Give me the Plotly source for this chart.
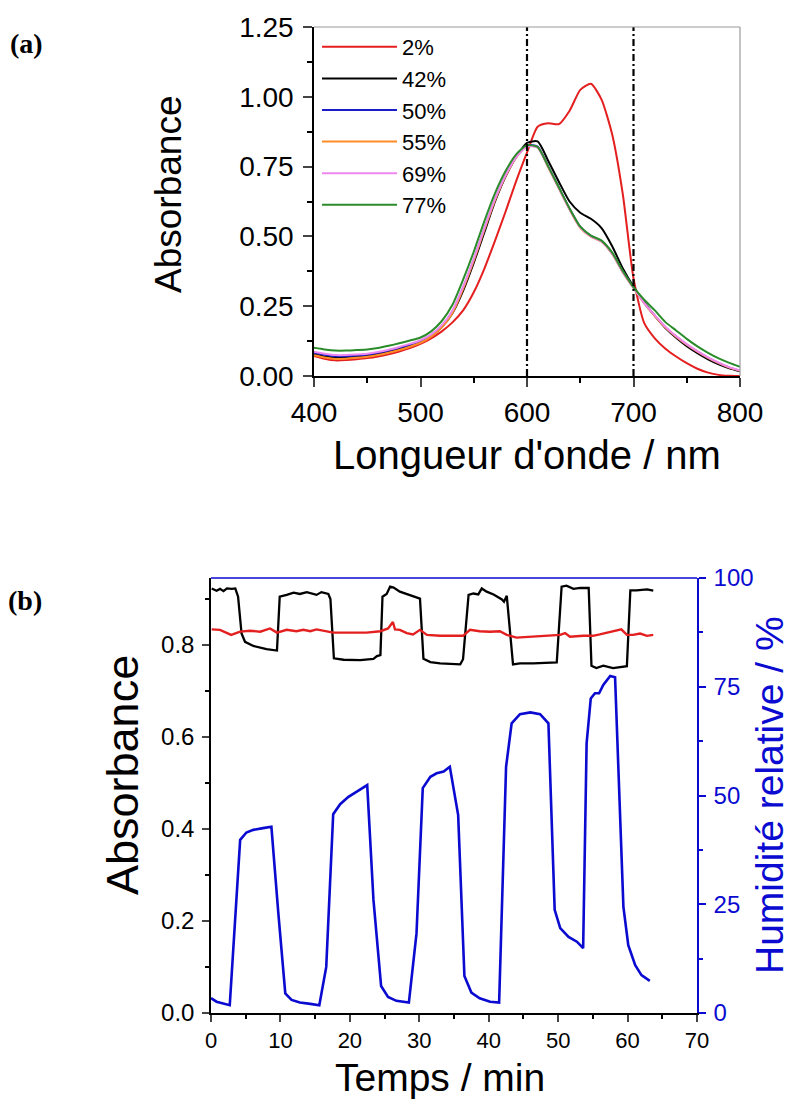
import plotly.graph_objects as go

W, H = 796, 1104

# ---------------- (a) spectra ----------------
wavelength = list(range(400, 801, 10))
series_labels = ["2%", "42%", "50%", "55%", "69%", "77%"]
series_colors = ["#e41f1f", "#000000", "#1c1cc8", "#ff8c28", "#ee88ee", "#2a8c2a"]

abs_2 = [0.072, 0.062, 0.056, 0.057, 0.060, 0.064, 0.070, 0.078, 0.088, 0.100,
         0.115, 0.135, 0.160, 0.192, 0.235, 0.300, 0.385, 0.485, 0.590, 0.700,
         0.800, 0.893, 0.905, 0.902, 0.950, 1.025, 1.047, 0.990, 0.865, 0.650,
         0.350, 0.190, 0.135, 0.098, 0.070, 0.046, 0.026, 0.012, 0.004, 0.001, 0.000]
abs_42 = [0.078, 0.070, 0.066, 0.066, 0.069, 0.073, 0.079, 0.086, 0.096, 0.107,
          0.122, 0.143, 0.175, 0.225, 0.305, 0.405, 0.515, 0.625, 0.715, 0.785,
          0.835, 0.840, 0.770, 0.695, 0.625, 0.585, 0.563, 0.530, 0.465, 0.385,
          0.320, 0.265, 0.215, 0.172, 0.137, 0.107, 0.082, 0.060, 0.042, 0.028, 0.017]
abs_50 = [0.083, 0.076, 0.071, 0.071, 0.073, 0.077, 0.083, 0.091, 0.101, 0.112,
          0.125, 0.146, 0.179, 0.231, 0.316, 0.416, 0.527, 0.633, 0.719, 0.786,
          0.826, 0.822, 0.750, 0.674, 0.599, 0.534, 0.502, 0.483, 0.439, 0.373,
          0.317, 0.262, 0.216, 0.174, 0.141, 0.112, 0.087, 0.065, 0.046, 0.030, 0.019]
abs_55 = [0.074, 0.066, 0.061, 0.062, 0.065, 0.069, 0.075, 0.083, 0.093, 0.105,
          0.119, 0.141, 0.174, 0.226, 0.312, 0.413, 0.524, 0.630, 0.717, 0.784,
          0.823, 0.819, 0.747, 0.671, 0.596, 0.531, 0.499, 0.481, 0.437, 0.371,
          0.315, 0.261, 0.215, 0.174, 0.141, 0.112, 0.087, 0.065, 0.046, 0.030, 0.019]
abs_69 = [0.087, 0.080, 0.075, 0.075, 0.077, 0.080, 0.086, 0.094, 0.104, 0.115,
          0.128, 0.149, 0.182, 0.235, 0.320, 0.420, 0.530, 0.635, 0.720, 0.785,
          0.822, 0.818, 0.748, 0.672, 0.597, 0.532, 0.500, 0.482, 0.438, 0.372,
          0.316, 0.262, 0.217, 0.176, 0.143, 0.114, 0.089, 0.067, 0.048, 0.032, 0.020]
abs_77 = [0.101, 0.095, 0.091, 0.091, 0.093, 0.095, 0.100, 0.108, 0.117, 0.127,
          0.138, 0.160, 0.197, 0.255, 0.345, 0.445, 0.555, 0.655, 0.735, 0.795,
          0.827, 0.820, 0.750, 0.675, 0.600, 0.535, 0.503, 0.485, 0.442, 0.376,
          0.318, 0.273, 0.235, 0.193, 0.163, 0.133, 0.106, 0.083, 0.063, 0.047, 0.033]
spectra = [abs_2, abs_42, abs_50, abs_55, abs_69, abs_77]

ref_wavelengths = [600, 700]
a_xticks = [400, 500, 600, 700, 800]
a_yticks = [0.0, 0.25, 0.5, 0.75, 1.0, 1.25]
a_ylabels = ["0.00", "0.25", "0.50", "0.75", "1.00", "1.25"]

# ---------------- (b) kinetics ----------------
t_black = [0.1, 0.8, 1.3, 1.8, 2.3, 3.0, 3.5, 3.9, 4.4, 4.9, 6.1, 8.0, 9.5,
           9.9, 10.9, 11.9, 12.8, 13.8, 15.2, 15.9, 16.9, 17.2,
           17.7, 19.1, 21.5, 23.4, 23.9, 24.4,
           24.7, 25.3, 25.8, 26.3, 27.2, 28.7, 30.1,
           30.6, 31.6, 33.0, 35.9, 36.3,
           37.1, 37.8, 38.5, 39.0, 39.7, 40.7, 41.9, 42.2, 42.6,
           43.5, 44.5, 46.4, 48.3, 49.8,
           50.5, 51.2, 52.2, 53.2, 54.4,
           54.8, 55.5, 56.5, 57.9, 59.9,
           60.4, 61.3, 62.8, 63.7]
abs_black = [0.923, 0.918, 0.922, 0.917, 0.923, 0.922, 0.923, 0.905, 0.825, 0.807, 0.798, 0.791, 0.788,
             0.905, 0.909, 0.914, 0.911, 0.915, 0.909, 0.915, 0.911, 0.900,
             0.771, 0.768, 0.767, 0.770, 0.776, 0.778,
             0.905, 0.911, 0.927, 0.925, 0.916, 0.909, 0.901,
             0.770, 0.763, 0.760, 0.758, 0.769,
             0.909, 0.912, 0.910, 0.923, 0.916, 0.910, 0.899, 0.894, 0.907,
             0.758, 0.760, 0.760, 0.761, 0.762,
             0.927, 0.929, 0.922, 0.924, 0.924,
             0.755, 0.750, 0.755, 0.750, 0.754,
             0.919, 0.919, 0.921, 0.918]

t_red = [0.1, 1.3, 2.9, 4.2, 5.6, 7.1, 8.5, 9.5, 10.9, 12.3,
         13.3, 14.3, 15.2, 16.7, 17.6, 20.0, 22.4, 24.4, 25.5, 26.2,
         26.5, 27.2, 28.2, 29.1, 30.1, 31.1, 33.0, 36.3, 37.3, 38.7,
         40.2, 41.6, 42.6, 44.0, 46.4, 48.8, 50.3, 51.0, 51.7, 53.6,
         55.0, 56.0, 57.9, 59.1, 59.9, 60.8, 61.8, 62.8, 63.7]
abs_red = [0.834, 0.833, 0.822, 0.829, 0.831, 0.829, 0.836, 0.827, 0.833, 0.830,
           0.833, 0.830, 0.834, 0.829, 0.827, 0.827, 0.827, 0.830, 0.836, 0.850,
           0.834, 0.833, 0.826, 0.823, 0.833, 0.822, 0.820, 0.820, 0.833, 0.830,
           0.829, 0.830, 0.822, 0.816, 0.818, 0.820, 0.822, 0.826, 0.818, 0.820,
           0.820, 0.823, 0.829, 0.834, 0.822, 0.822, 0.825, 0.820, 0.822]

t_rh = [0, 0.8, 2.7, 4.2, 5.1, 6.1, 7.5, 8.7, 9.7, 10.7,
        11.6, 12.8, 14.3, 15.6, 16.6, 17.6, 18.6, 19.8, 21.0, 22.5,
        23.4, 24.5, 25.5, 26.7, 28.5, 29.6, 30.5, 31.6, 32.5, 33.5,
        34.4, 35.6, 36.5, 37.5, 38.7, 40.2, 41.5, 42.5, 43.3, 44.5,
        46.0, 47.4, 48.6, 49.5, 50.3, 51.5, 52.7, 53.6, 54.1, 54.7,
        55.3, 55.9, 56.5, 57.5, 58.2, 59.4, 60.1, 61.1, 62.0, 63.2]
rh = [3.4, 2.6, 1.8, 39.8, 41.5, 42.1, 42.5, 42.8, 22.9, 4.5,
      3.0, 2.4, 2.1, 1.8, 10.6, 45.7, 48.0, 49.7, 50.9, 52.4,
      26.0, 6.2, 3.7, 2.8, 2.4, 18.3, 51.7, 54.3, 55.1, 55.5,
      56.6, 45.5, 8.5, 4.7, 3.4, 2.6, 2.4, 56.6, 66.6, 68.7,
      69.1, 68.7, 66.6, 23.7, 19.5, 17.5, 16.4, 14.9, 62.0, 72.3,
      73.5, 73.5, 75.4, 77.5, 77.2, 24.4, 15.6, 11.0, 8.7, 7.4]

b_xticks = [0, 10, 20, 30, 40, 50, 60, 70]
b_yticks = [0.0, 0.2, 0.4, 0.6, 0.8]
b_ylabels = ["0.0", "0.2", "0.4", "0.6", "0.8"]
b_rticks = [0, 25, 50, 75, 100]

BLUE = "#0a0ad0"
FONT = "Liberation Sans, Arial, sans-serif"
SERIF = "Liberation Serif, Times New Roman, serif"

# screen pixel -> paper fraction
def px(x):
    return x / W

def py(y):
    return 1 - y / H

fig = go.Figure()

for vals, lab, col in zip(spectra, series_labels, series_colors):
    fig.add_trace(go.Scatter(x=wavelength, y=vals, name=lab, mode="lines",
                             line=dict(color=col, width=2, shape="spline", smoothing=0.6),
                             xaxis="x", yaxis="y"))

fig.add_trace(go.Scatter(x=t_black, y=abs_black, mode="lines", showlegend=False,
                         line=dict(color="black", width=2.3), xaxis="x2", yaxis="y2"))
fig.add_trace(go.Scatter(x=t_red, y=abs_red, mode="lines", showlegend=False,
                         line=dict(color="#e41f1f", width=2.4), xaxis="x2", yaxis="y2"))
fig.add_trace(go.Scatter(x=t_rh, y=rh, mode="lines", showlegend=False,
                         line=dict(color=BLUE, width=2.6), xaxis="x2", yaxis="y3"))

for wl in ref_wavelengths:
    fig.add_shape(type="line", xref="x", yref="y domain", x0=wl, x1=wl, y0=0, y1=1,
                  line=dict(color="black", width=2.2, dash="7px,3px,2px,3px"), layer="above")

fig.add_shape(type="line", xref="x domain", yref="y domain", x0=0, x1=1, y0=1, y1=1,
              line=dict(color="#999999", width=1.2))
fig.add_shape(type="line", xref="x domain", yref="y domain", x0=1, x1=1, y0=0, y1=1,
              line=dict(color="#999999", width=1.2))
fig.add_shape(type="line", xref="x2 domain", yref="y2 domain", x0=0, x1=1, y0=1, y1=1,
              line=dict(color=BLUE, width=1.5))

tick_font_a = dict(family=FONT, size=28, color="black")
common = dict(showgrid=False, zeroline=False, automargin=False, showline=True, linewidth=1.5)
fig.update_layout(
    width=W, height=H, autosize=False,
    margin=dict(l=0, r=0, t=0, b=0, pad=0, autoexpand=False),
    paper_bgcolor="white", plot_bgcolor="white",
    font=dict(family=FONT, color="black"),
    showlegend=True,
    legend=dict(x=px(317), y=py(26), xanchor="left", yanchor="top",
                bgcolor="rgba(0,0,0,0)", font=dict(family=FONT, size=22, color="black"),
                itemwidth=75, tracegroupgap=0),
    xaxis=dict(domain=[px(314), px(740)], anchor="y", range=[400, 800],
               tickvals=a_xticks, ticks="outside", ticklen=9, tickwidth=1.5, linecolor="black",
               tickfont=tick_font_a, ticklabelstandoff=2,
               minor=dict(dtick=50, ticks="outside", ticklen=5, tickwidth=1.5, tickcolor="black"),
               **common),
    yaxis=dict(domain=[py(376), py(27)], anchor="x", range=[0, 1.25],
               tickvals=a_yticks, ticktext=a_ylabels, ticks="outside", ticklen=9, tickwidth=1.5,
               linecolor="black", tickfont=tick_font_a, ticklabelstandoff=4,
               minor=dict(dtick=0.125, ticks="outside", ticklen=5, tickwidth=1.5, tickcolor="black"),
               **common),
    xaxis2=dict(domain=[px(211), px(697)], anchor="y2", range=[0, 70],
                tickvals=b_xticks, ticks="outside", ticklen=7, tickwidth=1.5, linecolor="black",
                tickfont=dict(family=FONT, size=22, color="black"), ticklabelstandoff=0,
                minor=dict(dtick=5, ticks="outside", ticklen=4, tickwidth=1.5, tickcolor="black"),
                **common),
    yaxis2=dict(domain=[py(1013), py(578)], anchor="x2", range=[0, 0.9457],
                tickvals=b_yticks, ticktext=b_ylabels, ticks="outside", ticklen=7, tickwidth=1.5,
                linecolor="black", tickfont=dict(family=FONT, size=24, color="black"),
                ticklabelstandoff=3,
                minor=dict(dtick=0.1, ticks="outside", ticklen=4, tickwidth=1.5, tickcolor="black"),
                **common),
    yaxis3=dict(overlaying="y2", side="right", anchor="x2", range=[0, 100],
                tickvals=b_rticks, ticks="outside", ticklen=7, tickwidth=1.5, tickcolor=BLUE,
                linecolor=BLUE, tickfont=dict(family=FONT, size=24, color=BLUE), ticklabelstandoff=3,
                minor=dict(dtick=12.5, ticks="outside", ticklen=4, tickwidth=1.5, tickcolor=BLUE),
                **common),
)

def ann(text, x, y, size, color="black", angle=0, family=FONT):
    fig.add_annotation(text=text, x=px(x), y=py(y), xref="paper", yref="paper",
                       xanchor="center", yanchor="middle", showarrow=False, textangle=angle,
                       font=dict(family=family, size=size, color=color))

ann("Absorbance", 169, 195, 37, angle=-90)
ann("Longueur d'onde / nm", 527, 455, 40)
ann("Absorbance", 122, 775, 45, angle=-90)
ann("Temps / min", 440, 1077, 39)
ann("Humidité relative / %", 769, 795, 39, color=BLUE, angle=-90)
ann("<b>(a)</b>", 26, 44, 28, family=SERIF)
ann("<b>(b)</b>", 25, 600, 28, family=SERIF)

# the page is shown at the window size, so drop the default 8px body margin
fig.write_html("out.html", config={"displayModeBar": False},
               post_script="document.body.style.margin='0';")
